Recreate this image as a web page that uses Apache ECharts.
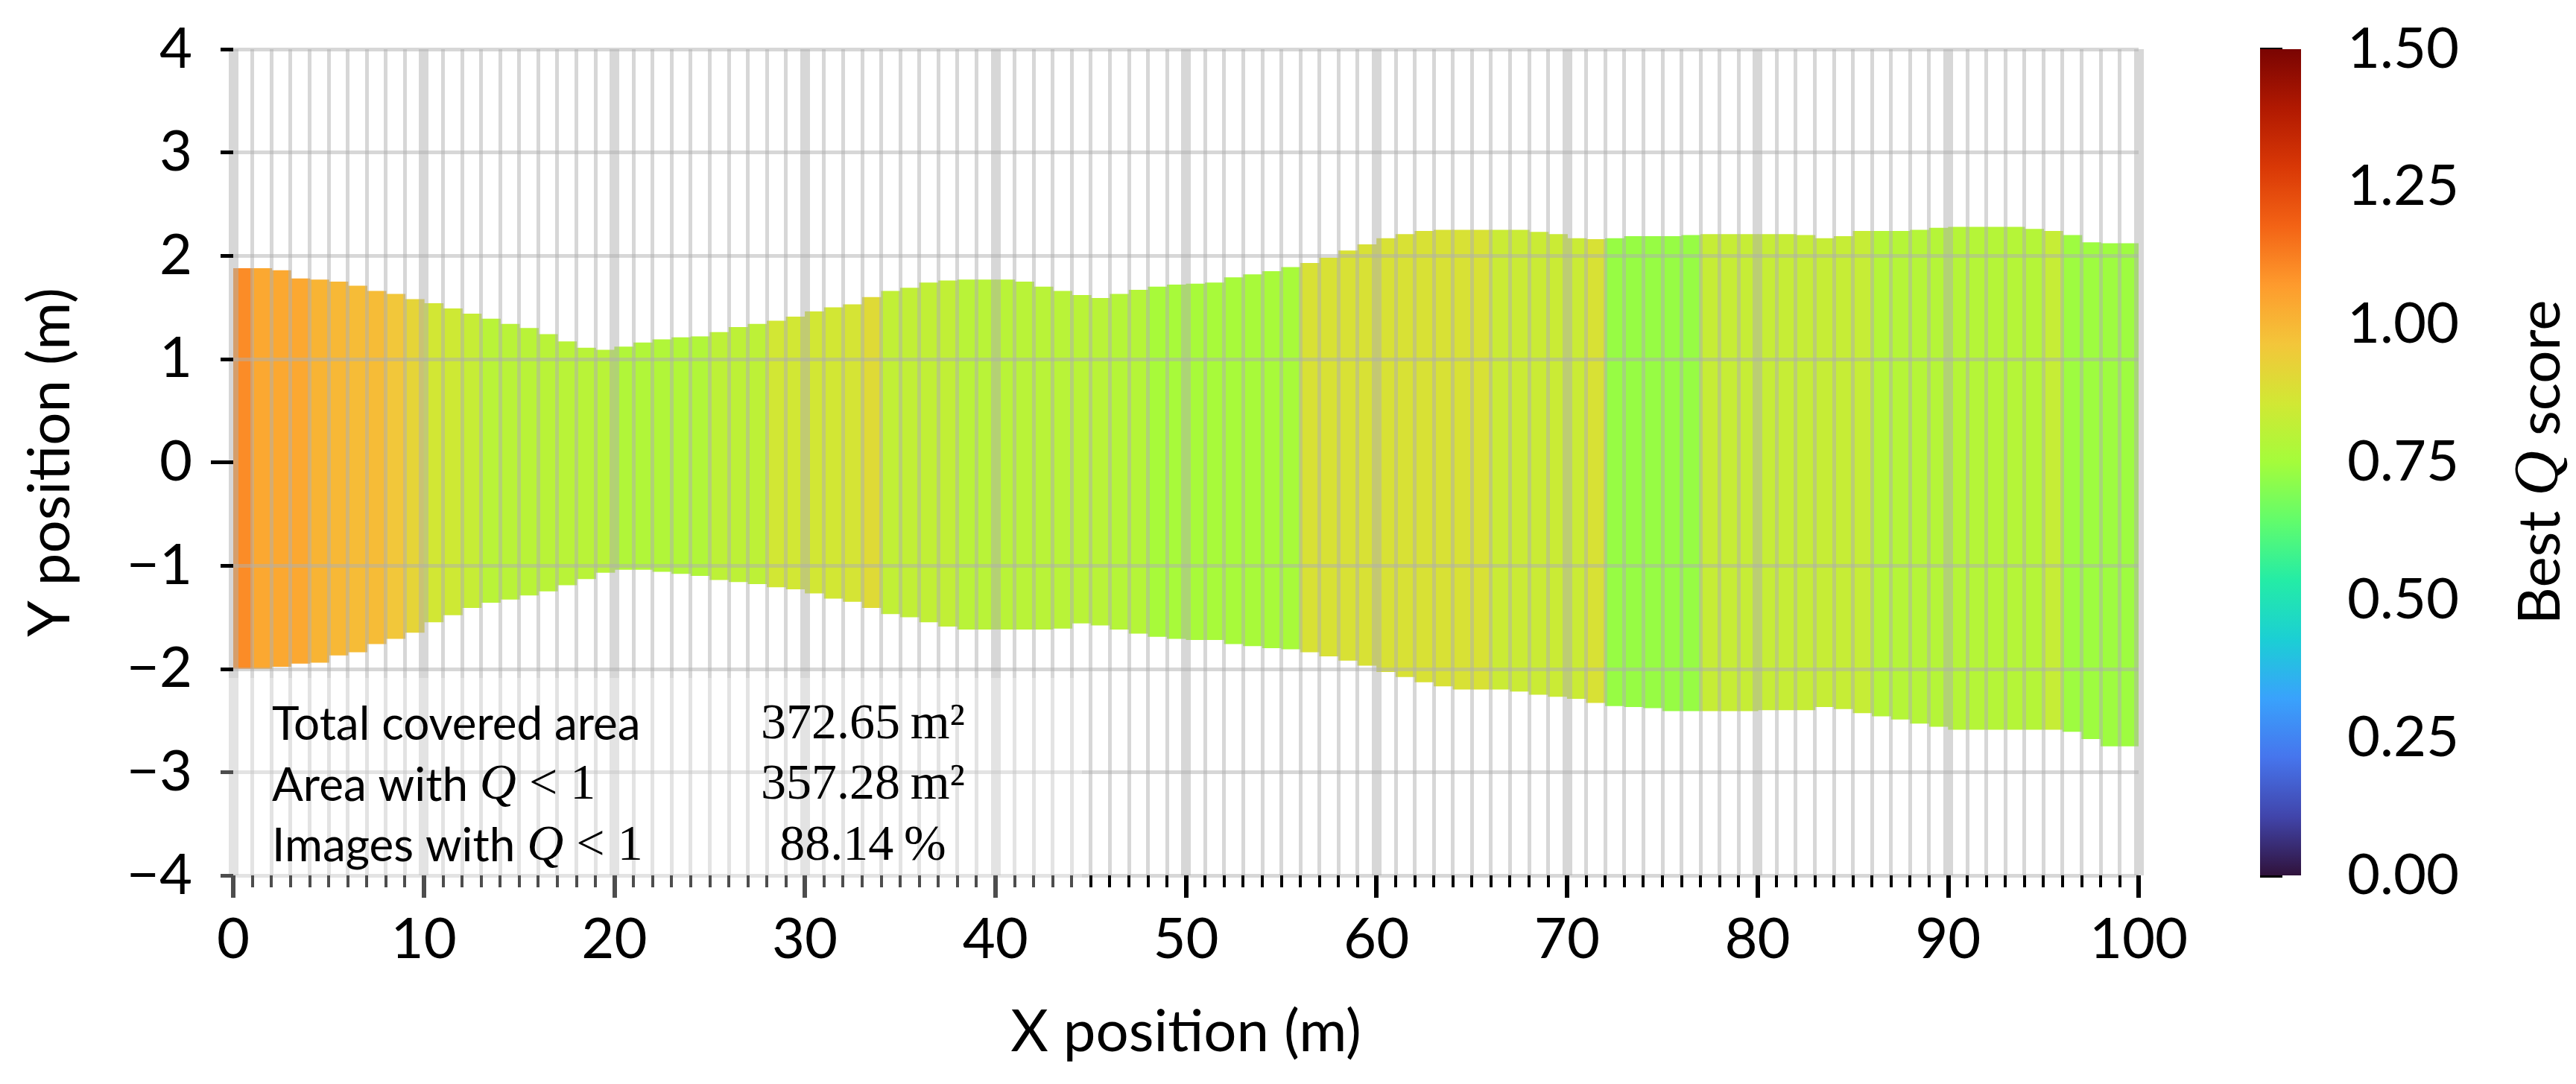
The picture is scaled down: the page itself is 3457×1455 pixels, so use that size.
<!DOCTYPE html>
<html>
<head>
<meta charset="utf-8">
<title>Best Q score coverage</title>
<script src="https://cdn.jsdelivr.net/npm/echarts@6/dist/echarts.min.js"></script>
<style>
  html, body { margin: 0; padding: 0; background: #fff; }
  #chart { width: 3457px; height: 1455px; }
</style>
</head>
<body>
<div id="chart"></div>
<script>
// strip width along X (m), one strip per metre
const X_STEP = 1
// upper edge of the covered strip (m)
const TOP = [
  1.88, 1.88, 1.86, 1.78, 1.77, 1.75, 1.71, 1.66, 1.63, 1.58,
  1.54, 1.49, 1.44, 1.39, 1.34, 1.30, 1.24, 1.17, 1.11, 1.09,
  1.12, 1.16, 1.19, 1.21, 1.22, 1.26, 1.31, 1.34, 1.37, 1.41,
  1.46, 1.50, 1.53, 1.60, 1.66, 1.69, 1.74, 1.76, 1.77, 1.77,
  1.77, 1.75, 1.70, 1.66, 1.62, 1.59, 1.63, 1.67, 1.70, 1.72,
  1.73, 1.74, 1.79, 1.82, 1.85, 1.89, 1.93, 1.98, 2.05, 2.11,
  2.17, 2.21, 2.24, 2.25, 2.25, 2.25, 2.25, 2.25, 2.23, 2.21,
  2.17, 2.16, 2.17, 2.19, 2.19, 2.19, 2.20, 2.21, 2.21, 2.21,
  2.21, 2.21, 2.20, 2.17, 2.19, 2.24, 2.24, 2.24, 2.25, 2.27,
  2.28, 2.28, 2.28, 2.28, 2.26, 2.24, 2.20, 2.13, 2.12, 2.12
]
// lower edge of the covered strip (m)
const BOTTOM = [
  -2.00, -2.00, -1.98, -1.95, -1.94, -1.87, -1.84, -1.76, -1.71, -1.65,
  -1.55, -1.48, -1.41, -1.36, -1.33, -1.29, -1.25, -1.19, -1.13, -1.07,
  -1.04, -1.04, -1.06, -1.08, -1.10, -1.14, -1.16, -1.18, -1.21, -1.23,
  -1.27, -1.32, -1.35, -1.41, -1.47, -1.50, -1.55, -1.59, -1.62, -1.62,
  -1.62, -1.62, -1.62, -1.61, -1.56, -1.58, -1.62, -1.66, -1.69, -1.71,
  -1.72, -1.72, -1.76, -1.78, -1.80, -1.81, -1.84, -1.88, -1.92, -1.97,
  -2.03, -2.08, -2.13, -2.17, -2.20, -2.20, -2.20, -2.22, -2.25, -2.27,
  -2.29, -2.33, -2.36, -2.37, -2.38, -2.41, -2.41, -2.41, -2.41, -2.41,
  -2.40, -2.40, -2.40, -2.37, -2.39, -2.43, -2.46, -2.49, -2.53, -2.56,
  -2.59, -2.59, -2.59, -2.59, -2.59, -2.59, -2.61, -2.68, -2.75, -2.75
]
// best Q score per strip
const Q = [
  1.10, 1.04, 1.04, 1.04, 1.01, 1.00, 0.99, 0.99, 0.96, 0.92,
  0.86, 0.85, 0.83, 0.80, 0.80, 0.80, 0.80, 0.80, 0.80, 0.80,
  0.78, 0.78, 0.78, 0.78, 0.78, 0.81, 0.81, 0.81, 0.86, 0.86,
  0.86, 0.86, 0.87, 0.90, 0.82, 0.82, 0.82, 0.82, 0.80, 0.80,
  0.80, 0.80, 0.80, 0.80, 0.80, 0.80, 0.79, 0.79, 0.76, 0.76,
  0.76, 0.76, 0.76, 0.76, 0.76, 0.76, 0.88, 0.88, 0.88, 0.88,
  0.88, 0.88, 0.88, 0.88, 0.88, 0.88, 0.84, 0.84, 0.84, 0.84,
  0.84, 0.88, 0.73, 0.73, 0.73, 0.73, 0.73, 0.83, 0.83, 0.83,
  0.83, 0.83, 0.83, 0.83, 0.83, 0.83, 0.79, 0.79, 0.79, 0.79,
  0.79, 0.79, 0.79, 0.79, 0.79, 0.83, 0.74, 0.74, 0.74, 0.74
]
const Y_TICKS = [-4, -3, -2, -1, 0, 1, 2, 3, 4]
const Q_TICKS = [0, 0.25, 0.5, 0.75, 1.0, 1.25, 1.5]
const STATS_LABELS = ['Total covered area', 'Area with {q|Q}{n| < 1}', 'Images with {q|Q}{n| < 1}']
const STATS_VALUES = ['372.65\u2009m\u00b2', '357.28\u2009m\u00b2', '88.14\u2009%']

const TURBO = ['#30123b', '#4145ab', '#4675ed', '#39a2fc', '#1bcfd4', '#24eca6', '#61fc6c',
  '#a4fc3b', '#d1e834', '#f3c63a', '#fe9b2d', '#f36315', '#d93806', '#b11901', '#7a0402']

const SANS = 'Lato'
const SERIF = 'Liberation Serif'
const GRID_GREY = 'rgba(176,176,176,0.5)'
const NONE = 'rgba(0,0,0,0)'

// plot area in pixels
const PLOT = { left: 313, top: 66, width: 2557, height: 1109 }
const CBAR = { left: 3033, top: 66, width: 55, height: 1109 }

const strips = TOP.map((t, i) => [i * X_STEP, (i + 1) * X_STEP, BOTTOM[i], t, Q[i]])

// minor grid colours skip the major positions (every 10th line on x, y = 0 on y)
const xMinorColors = [NONE].concat(new Array(9).fill(GRID_GREY))
const yMinorColors = Y_TICKS.map(v => (v === 0 ? NONE : GRID_GREY))

const tickFont = { fontFamily: SANS, fontSize: 76, color: '#000' }
const minus = v => String(v).replace('-', '\u2212')

const chart = echarts.init(document.getElementById('chart'), null, { renderer: 'canvas' })

const option = {
  backgroundColor: '#fff',
  animation: false,
  grid: [
    { left: PLOT.left, top: PLOT.top, width: PLOT.width, height: PLOT.height },
    { left: CBAR.left, top: CBAR.top, width: CBAR.width, height: CBAR.height }
  ],
  visualMap: {
    show: false,
    type: 'continuous',
    min: Q_TICKS[0],
    max: Q_TICKS[Q_TICKS.length - 1],
    dimension: 4,
    seriesIndex: 0,
    inRange: { color: TURBO }
  },
  xAxis: [
    {
      // minor ticks / grid every metre
      type: 'value', gridIndex: 0, min: 0, max: 100, interval: 1, position: 'bottom', z: 3,
      axisLine: { show: false, onZero: false },
      axisTick: { show: true, length: 16, lineStyle: { color: '#000', width: 4 } },
      axisLabel: { show: false },
      splitLine: { show: true, lineStyle: { color: xMinorColors, width: 5 } }
    },
    {
      // major ticks / grid every 10 m
      type: 'value', gridIndex: 0, min: 0, max: 100, interval: 10, position: 'bottom', z: 3,
      axisLine: { show: false, onZero: false },
      axisTick: { show: true, length: 30, lineStyle: { color: '#000', width: 6 } },
      axisLabel: Object.assign({ margin: 48 }, tickFont),
      splitLine: { show: true, lineStyle: { color: GRID_GREY, width: 13 } },
      name: 'X position (m)',
      nameLocation: 'middle',
      nameGap: 172,
      nameTextStyle: { fontFamily: SANS, fontSize: 78, color: '#000' }
    },
    { type: 'value', gridIndex: 1, min: 0, max: 1, show: false }
  ],
  yAxis: [
    {
      type: 'value', gridIndex: 0, min: -4, max: 4, interval: 1, position: 'left', z: 3,
      axisLine: { show: false, onZero: false },
      axisTick: { show: true, length: 17, lineStyle: { color: '#000', width: 5 } },
      axisLabel: Object.assign({ margin: 55, formatter: minus }, tickFont),
      splitLine: { show: true, lineStyle: { color: yMinorColors, width: 5 } },
      name: 'Y position (m)',
      nameLocation: 'middle',
      nameRotate: 90,
      nameGap: 206,
      nameTextStyle: { fontFamily: SANS, fontSize: 78, color: '#000' }
    },
    {
      // y = 0 is the only major line
      type: 'value', gridIndex: 0, min: -4, max: 4, interval: 4, position: 'left', z: 3,
      axisLine: { show: false, onZero: false },
      axisTick: { show: true, length: 30, customValues: [0], lineStyle: { color: '#000', width: 5 } },
      axisLabel: { show: false },
      splitLine: { show: true, lineStyle: { color: [NONE, GRID_GREY, NONE], width: 13 } }
    },
    {
      type: 'value', gridIndex: 1, min: 0, max: 1.5, interval: 0.25, position: 'right',
      axisLine: { show: false },
      axisTick: { show: true, length: 30, lineStyle: { color: '#000', width: 5 } },
      axisLabel: Object.assign({ margin: 62, formatter: v => v.toFixed(2) }, tickFont),
      splitLine: { show: false },
      name: 'Best {q|Q} score',
      nameLocation: 'middle',
      nameRotate: 90,
      nameGap: 280,
      nameTextStyle: {
        fontFamily: SANS, fontSize: 78, color: '#000',
        rich: { q: { fontFamily: SERIF, fontStyle: 'italic', fontSize: 84, color: '#000' } }
      }
    }
  ],
  series: [
    {
      type: 'custom',
      xAxisIndex: 0,
      yAxisIndex: 0,
      clip: true,
      encode: { x: [0, 1], y: [2, 3] },
      data: strips,
      renderItem (params, api) {
        const a = api.coord([api.value(0), api.value(3)])
        const b = api.coord([api.value(1), api.value(2)])
        return {
          type: 'rect',
          shape: { x: a[0], y: a[1], width: b[0] - a[0] + 1, height: b[1] - a[1] },
          style: { fill: api.visual('color') }
        }
      }
    },
    {
      // colour bar
      type: 'custom',
      xAxisIndex: 2,
      yAxisIndex: 2,
      data: [[0, 1, Q_TICKS[0], Q_TICKS[Q_TICKS.length - 1]]],
      renderItem (params, api) {
        const a = api.coord([api.value(0), api.value(3)])
        const b = api.coord([api.value(1), api.value(2)])
        const stops = TURBO.map((c, i) => ({ offset: i / (TURBO.length - 1), color: c }))
        return {
          type: 'rect',
          shape: { x: a[0], y: a[1], width: b[0] - a[0], height: b[1] - a[1] },
          style: { fill: new echarts.graphic.LinearGradient(0, 1, 0, 0, stops) }
        }
      }
    }
  ],
  graphic: [
    {
      type: 'rect', z: 100,
      shape: { x: 285, y: 910, width: 1167, height: 305 },
      style: { fill: 'rgba(255,255,255,0.3)' }
    }
  ].concat(STATS_LABELS.map((t, i) => ({
    type: 'text', z: 101,
    x: 365, y: 973 + i * 81.5,
    style: {
      text: t, fill: '#000', font: '62px ' + SANS, verticalAlign: 'middle', align: 'left',
      rich: {
        q: { fontFamily: SERIF, fontStyle: 'italic', fontSize: 68, fill: '#000' },
        n: { fontFamily: SERIF, fontSize: 68, fill: '#000' }
      }
    }
  }))).concat(STATS_VALUES.map((t, i) => ({
    type: 'text', z: 101,
    x: 1158, y: 973 + i * 81.5,
    style: { text: t, fill: '#000', font: '68px ' + SERIF, verticalAlign: 'middle', align: 'center' }
  })))
}

chart.setOption(option)
</script>
</body>
</html>
